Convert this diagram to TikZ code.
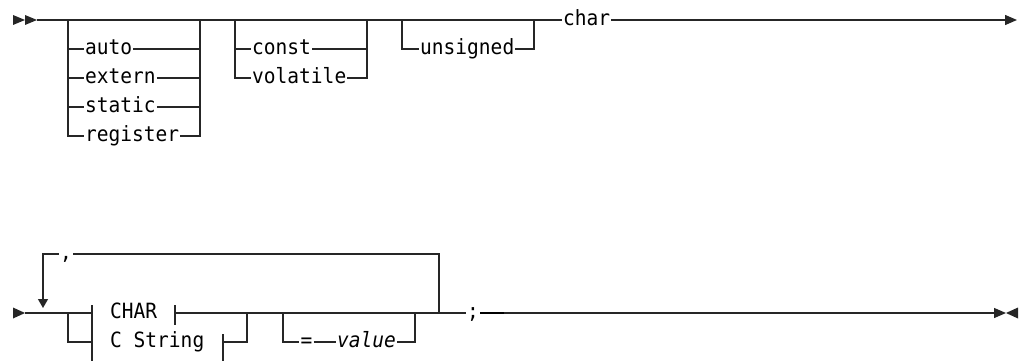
\documentclass[tikz,border=0pt]{standalone}
\usepackage{fontspec}
\setmonofont[FakeStretch=0.93]{DejaVu Sans Mono}
\usetikzlibrary{arrows.meta}

\tikzset{
  kw/.style = {font=\ttfamily\fontsize{21}{24}\selectfont, inner sep=1pt, text height=15pt, text depth=3.6pt},
  rail/.style = {line width=1.3pt, draw=black!85},
  tip/.style = {-{Triangle[length=12pt,width=10pt]}},
  endmark/.style = {fill=black!85},
}

\begin{document}
\begin{tikzpicture}[x=1pt,y=-1pt]
    \useasboundingbox (0,0) rectangle (1022,361);

    % first line
    \coordinate (topstart) at (37,20);
    \coordinate (b1l) at (68,20);
    \coordinate (b1r) at (200,20);
    \coordinate (b2l) at (235,20);
    \coordinate (b2r) at (367,20);
    \coordinate (b3l) at (402,20);
    \coordinate (b3r) at (534,20);
    \coordinate (topend) at (1017,20);

    \node[kw, anchor = west](auto) at (84,49) {auto};
    \node[kw, anchor = west](extern) at (84,78) {extern};
    \node[kw, anchor = west](static) at (84,107) {static};
    \node[kw, anchor = west](register) at (84,136) {register};
    \node[kw, anchor = west](const) at (251,49) {const};
    \node[kw, anchor = west](volatile) at (251,78) {volatile};
    \node[kw, anchor = west](unsigned) at (419,49) {unsigned};
    \node[kw, anchor = west](char) at (562,20) {char};

    \fill[endmark] (13,15) -- (25,20) -- (13,25) -- cycle;
    \fill[endmark] (25,15) -- (37,20) -- (25,25) -- cycle;
    \draw[rail] (topstart) -- (char.west);
    \draw[rail,tip] (char.east) -- (topend);

    \draw[rail] (b1l) |- (register.west);
    \draw[rail] (b1r) |- (register.east);
    \foreach \k in {auto,extern,static} {
      \draw[rail] (b1l |- \k.west) -- (\k.west);
      \draw[rail] (\k.east) -- (b1r |- \k.east);
    }
    \draw[rail] (b2l) |- (volatile.west);
    \draw[rail] (b2r) |- (volatile.east);
    \draw[rail] (b2l |- const.west) -- (const.west);
    \draw[rail] (const.east) -- (b2r |- const.east);
    \draw[rail] (b3l) |- (unsigned.west);
    \draw[rail] (unsigned.east) -| (b3r);

    % second line
    \coordinate (botstart) at (25,313);
    \coordinate (bl) at (68,313);
    \coordinate (fr1) at (92,313);
    \coordinate (fr1b) at (92,342);
    \coordinate (fr2) at (175,313);
    \coordinate (fr3) at (223,342);
    \coordinate (br) at (247,313);
    \coordinate (ol) at (283,313);
    \coordinate (or) at (415,313);
    \coordinate (loopl) at (43,308);
    \coordinate (loopr) at (439,313);
    \coordinate (botend) at (1006,313);

    \node[kw](comma) at (66,254) {,};
    \node[kw, anchor = west](CHAR) at (109,313) {CHAR};
    \node[kw, anchor = west](cstring) at (109,342) {C String};
    \node[kw](eq) at (306.5,342) {=};
    \node[kw, anchor = west, font=\ttfamily\itshape\fontsize{21}{24}\selectfont](value) at (336,342) {value};
    \node[kw](semi) at (473,313) {;};

    \fill[endmark] (13,307.5) -- (25,313) -- (13,318.5) -- cycle;
    \draw[rail] (botstart) -- (fr1);
    \draw[rail] (bl) |- (fr1b);
    \draw[rail] ([yshift=8pt]fr1) -- ([yshift=-19pt]fr1b);
    \draw[rail] ([yshift=8pt]fr2) -- ([yshift=-12pt]fr2);
    \draw[rail] ([yshift=8pt]fr3) -- ([yshift=-19pt]fr3);
    \draw[rail] (fr2) -- (semi.west);
    \draw[rail] (fr3) -| (br);

    \draw[rail] (ol) |- (eq.west);
    \draw[rail] (eq.east) -- (value.west);
    \draw[rail] (value.east) -| (or);

    \draw[rail] (loopr) |- (comma.east);
    \draw[rail,-{Triangle[length=9pt,width=10pt]}] (comma.west) -| (loopl);

    \draw[rail,tip] (semi.east) -- (botend);
    \draw[line width=2.4pt, black] (semi.east) -- ++(24,0);
    \fill[endmark] (1018,307.5) -- (1006,313) -- (1018,318.5) -- cycle;
\end{tikzpicture}
\end{document}
